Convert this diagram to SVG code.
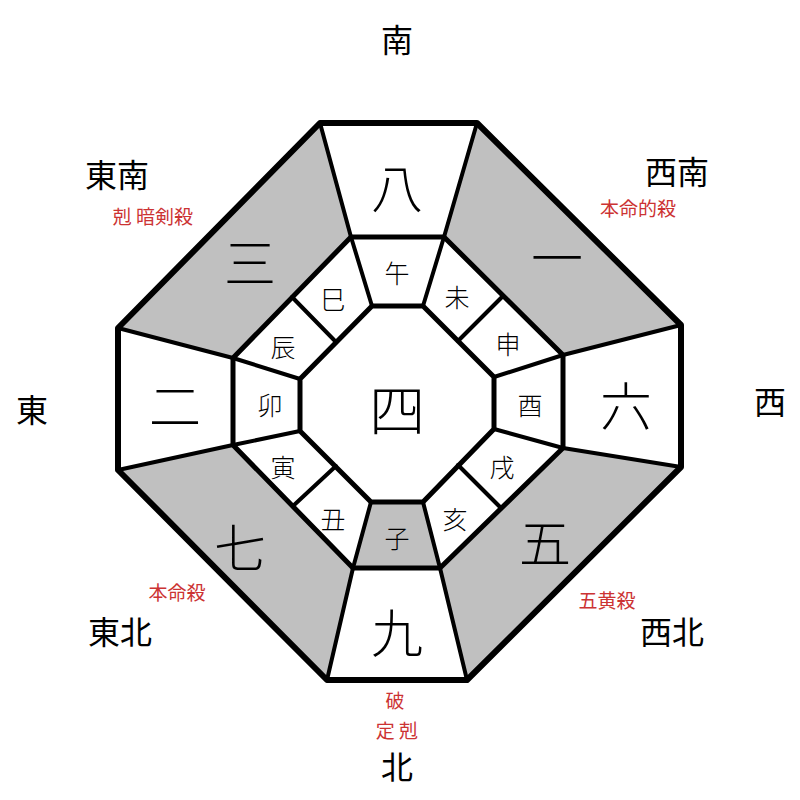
<svg xmlns="http://www.w3.org/2000/svg" width="800" height="800" viewBox="0 0 800 800">
<style>
.ln{stroke:#000;fill:none;stroke-linecap:round;stroke-linejoin:round}
.g{fill:#c0c0c0}
t,text{font-family:"Noto Sans CJK JP",sans-serif;text-anchor:middle;dominant-baseline:central;fill:#000}
.big{font-size:52px;font-weight:300}
.br{font-size:25px;font-weight:300}
.dir{font-size:32px}
.red{font-size:19px;fill:#cc3333}
</style>
<rect width="800" height="800" fill="#fff"/>
<g id="shading">
<polygon class="g" points="477,123 681,325 563,355 444,237"/>
<polygon class="g" points="681,467 467,680 440,568 563,448"/>
<polygon class="g" points="327,680 118,470 233,445 353,568"/>
<polygon class="g" points="118,328 320,123 351,237 233,358"/>
<polygon class="g" points="371,502 423,502 440,568 353,568"/>
</g>
<g id="connectors">
<polygon class="ln" stroke-width="6" points="320,123 477,123 681,325 681,467 467,680 327,680 118,470 118,328"/>
<polygon class="ln" stroke-width="5" points="351,237 444,237 563,355 563,448 440,568 353,568 233,445 233,358"/>
<polygon class="ln" stroke-width="5" points="372,306 423,306 494,377 494,429 423,502 371,502 300,431 300,379"/>
<g stroke-width="4" class="ln">
<line x1="320" y1="123" x2="351" y2="237"/><line x1="477" y1="123" x2="444" y2="237"/>
<line x1="681" y1="325" x2="563" y2="355"/><line x1="681" y1="467" x2="563" y2="448"/>
<line x1="467" y1="680" x2="440" y2="568"/><line x1="327" y1="680" x2="353" y2="568"/>
<line x1="118" y1="470" x2="233" y2="445"/><line x1="118" y1="328" x2="233" y2="358"/>
<line x1="351" y1="237" x2="372" y2="306"/><line x1="444" y1="237" x2="423" y2="306"/>
<line x1="563" y1="355" x2="494" y2="377"/><line x1="563" y1="448" x2="494" y2="429"/>
<line x1="440" y1="568" x2="423" y2="502"/><line x1="353" y1="568" x2="371" y2="502"/>
<line x1="233" y1="445" x2="300" y2="431"/><line x1="233" y1="358" x2="300" y2="379"/>
<line x1="292" y1="297" x2="336" y2="342"/><line x1="503" y1="296" x2="458" y2="341"/>
<line x1="501" y1="508" x2="458" y2="465"/><line x1="293" y1="506" x2="336" y2="466"/>
</g>
</g>
<g id="stars">
<text class="big" x="397" y="185">八</text><text class="big" x="557" y="255">一</text>
<text class="big" x="626" y="403">六</text><text class="big" x="545" y="540">五</text>
<text class="big" x="397" y="630">九</text><text class="big" x="240" y="545">七</text>
<text class="big" x="175" y="403">二</text><text class="big" x="250" y="260">三</text>
<text class="big" x="397" y="406" style="font-size:56px">四</text>
</g>
<g id="branches">
<text class="br" x="397" y="272">午</text><text class="br" x="457" y="296">未</text>
<text class="br" x="508" y="343">申</text><text class="br" x="530" y="404">酉</text>
<text class="br" x="502" y="466">戌</text><text class="br" x="455" y="518">亥</text>
<text class="br" x="397" y="537">子</text><text class="br" x="333" y="518">丑</text>
<text class="br" x="283" y="466">寅</text><text class="br" x="270" y="404">卯</text>
<text class="br" x="283" y="346">辰</text><text class="br" x="333" y="298">巳</text>
</g>
<g id="directions">
<text class="dir" x="397" y="38">南</text><text class="dir" x="117" y="173">東南</text>
<text class="dir" x="677" y="170">西南</text><text class="dir" x="32" y="408">東</text>
<text class="dir" x="770" y="400">西</text><text class="dir" x="120" y="630">東北</text>
<text class="dir" x="672" y="630">西北</text><text class="dir" x="397" y="765">北</text>
</g>
<g id="labels">
<text class="red" x="153" y="215">剋 暗剣殺</text><text class="red" x="638" y="207">本命的殺</text>
<text class="red" x="177" y="591">本命殺</text><text class="red" x="607" y="599">五黄殺</text>
<text class="red" x="395" y="699">破</text><text class="red" x="397" y="729">定 剋</text>
</g>
</svg>
